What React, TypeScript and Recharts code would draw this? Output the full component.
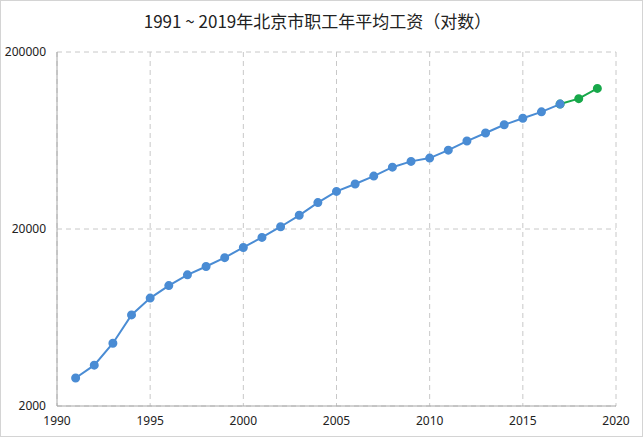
import React from 'react';
import { LineChart, Line, XAxis, YAxis, CartesianGrid } from 'recharts';

const years = [
  1991, 1992, 1993, 1994, 1995, 1996, 1997, 1998, 1999, 2000,
  2001, 2002, 2003, 2004, 2005, 2006, 2007, 2008, 2009, 2010,
  2011, 2012, 2013, 2014, 2015, 2016, 2017, 2018, 2019,
];

// 1991-2017 (blue)
const wageActual = [
  2877, 3402, 4523, 6540, 8144, 9579, 11019, 12285, 13778, 15726,
  17922, 20600, 23900, 28200, 32600, 35900, 39800, 44700, 48200, 50300,
  55800, 62800, 69700, 77600, 84500, 91800, 101600,
];

// 2017-2019 (green)
const wageRecent = [101600, 109000, 124500];
const recentStart = 2017;

const xTicks = [1990, 1995, 2000, 2005, 2010, 2015, 2020];
const yTicks = [2000, 20000, 200000];

const title = '1991 ~ 2019年北京市职工年平均工资（对数）';

const chartData = years.map((year, i) => ({
  year,
  actual: i < wageActual.length ? wageActual[i] : null,
  recent: year >= recentStart ? wageRecent[year - recentStart] : null,
}));

const tickStyle = { fontSize: 12, fill: '#222', fontFamily: '"Noto Sans", sans-serif' };

export default function App() {
  return (
    <div
      style={{
        position: 'absolute',
        left: 0,
        top: 0,
        width: 643,
        height: 437,
        boxSizing: 'border-box',
        border: '1px solid #d4d4d4',
        background: '#fff',
      }}
    >
      <div
        style={{
          position: 'absolute',
          left: 0,
          top: 8,
          width: 633,
          textAlign: 'center',
          fontSize: 17,
          color: '#222',
          fontFamily: '"Noto Sans CJK SC", sans-serif',
          lineHeight: '24px',
        }}
      >
        {title}
      </div>
      <LineChart
        width={641}
        height={435}
        data={chartData}
        margin={{ top: 51, right: 26, bottom: 0, left: 0 }}
        style={{ position: 'absolute', left: 0, top: 0 }}
      >
        <CartesianGrid stroke="#c8c8c8" strokeDasharray="5 4" />
        <XAxis
          dataKey="year"
          type="number"
          domain={[1990, 2020]}
          ticks={xTicks}
          tickLine={false}
          tickSize={0}
          tickMargin={10}
          height={30}
          stroke="#a6a6a6"
          tick={tickStyle}
          interval={0}
        />
        <YAxis
          scale="log"
          domain={[2000, 200000]}
          ticks={yTicks}
          allowDataOverflow
          tickLine={false}
          tickSize={0}
          tickMargin={11}
          width={56}
          stroke="#a6a6a6"
          tick={tickStyle}
          interval={0}
        />
        <Line
          dataKey="recent"
          stroke="#17a84a"
          strokeWidth={2}
          dot={{ r: 3.5, fill: '#17a84a', stroke: '#17a84a' }}
          isAnimationActive={false}
          connectNulls={false}
        />
        <Line
          dataKey="actual"
          stroke="#4a8cd4"
          strokeWidth={2}
          dot={{ r: 3.5, fill: '#4a8cd4', stroke: '#4a8cd4' }}
          isAnimationActive={false}
          connectNulls={false}
        />
      </LineChart>
    </div>
  );
}
